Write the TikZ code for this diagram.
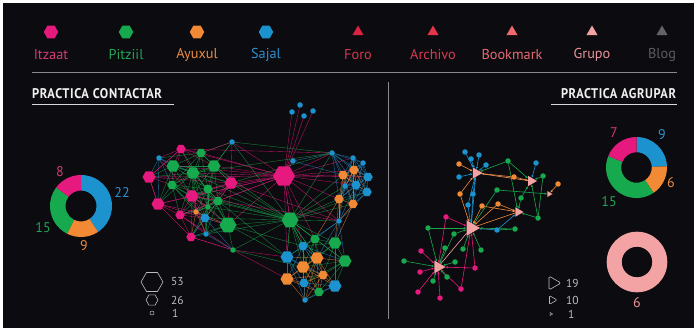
\documentclass[tikz,border=0pt]{standalone}
\usepackage{fontspec}
\setmainfont{PT Sans}
\usetikzlibrary{shapes.geometric,arrows.meta}
\pgfdeclarelayer{bg}
\pgfdeclarelayer{links}
\pgfsetlayers{bg,links,main}

\definecolor{bgc}{HTML}{0C0B0F}
\definecolor{cP}{HTML}{E6197E}
\definecolor{cG}{HTML}{17A94D}
\definecolor{cO}{HTML}{F28A35}
\definecolor{cB}{HTML}{1C93CF}
\definecolor{tP}{HTML}{D23A78}
\definecolor{tG}{HTML}{22A456}
\definecolor{tO}{HTML}{E98B42}
\definecolor{tB}{HTML}{2E8FD0}
\definecolor{foro}{HTML}{DA2242}
\definecolor{archivo}{HTML}{E6344A}
\definecolor{bookmark}{HTML}{EE6A6E}
\definecolor{grupo}{HTML}{F4A3A5}
\definecolor{blog}{HTML}{646466}
\definecolor{foroT}{HTML}{D33653}
\definecolor{archivoT}{HTML}{D83B52}
\definecolor{bookmarkT}{HTML}{E56A74}
\definecolor{grupoT}{HTML}{E8929A}
\definecolor{blogT}{HTML}{5C5C5E}
\definecolor{rule}{HTML}{8A8A8C}
\definecolor{keyc}{HTML}{BDBDBD}

% node lists: index / x / y / colour / size style
\def\leftnet{1/181/149/cP/nm,2/201/153/cG/nm,3/159/158/cB/ns,4/173/166/cG/nl,5/193/173/cG/nl,6/214/166/cG/nl,7/149/177/cP/nl,8/172/185/cG/nm,9/231/183/cP/nl,10/208/189/cG/nm,11/192/196/cP/nl,12/218/201/cG/nm,13/158/204/cP/nl,14/208/207/cG/ns,15/180/215/cP/nm,16/196/212/cO/ns,17/205/218/cB/nm,18/228/225/cG/nx,19/206/234/cB/ns,20/191/237/cP/nm,21/233/250/cG/ns,22/232/142/cB/ns,23/284/176/cP/nxx,24/290/220/cG/nx,25/293/161/cB/ns,26/292/112/cB/ns,27/300/105/cB/ns,28/304/116/cB/ns,29/313/111/cB/ns,30/332/153/cB/ns,31/353/158/cB/ns,32/363/163/cB/ns,33/354/170/cO/nm,34/343/175/cO/nm,35/368/177/cB/nm,36/345/186/cB/ns,37/356/185/cB/nm,38/367/192/cB/nm,39/339/199/cO/nm,40/353/204/cO/nm,41/339/221/cB/ns,42/315/239/cG/nm,43/335/243/cG/nl,44/303/246/cB/nm,45/317/258/cO/nl,46/287/257/cB/nl,47/345/261/cG/nl,48/303/267/cO/nl,49/323/275/cO/nm,50/287/279/cO/nl,51/304/283/cB/nm,52/335/286/cB/nl,53/319/292/cG/nm,54/305/300/cB/ns}

\def\rightnet{1/465/152/cB,2/471/159/cB,3/479/155/cB,4/486/165/cB,5/459/177/cB,6/473/194/cB,7/468/205/cB,8/497/230/cB,9/536/163/cB,10/459/164/cO,11/460/194/cO,12/514/177/cO,13/558/184/cO,14/482/206/cO,15/498/204/cO,16/508/161/cG,17/543/176/cG,18/497/190/cG,19/521/198/cG,20/538/218/cG,21/515/229/cG,22/428/228/cG,23/454/234/cG,24/445/248/cG,25/463/249/cG,26/481/250/cG,27/455/262/cG,28/404/261/cG,29/433/281/cG,30/447/277/cG,31/446/217/cP,32/421/251/cP,33/420/272/cP,34/475/268/cP,35/418/292/cP,36/440/298/cP,37/461/289/cP}

\begin{document}
\begin{tikzpicture}[x=1pt,y=-1pt,
  every node/.style={inner sep=0pt,outer sep=0pt},
  hexn/.style={regular polygon,regular polygon sides=6},
  ns/.style={circle,minimum size=5.5pt},
  nm/.style={hexn,minimum size=9.5pt},
  nl/.style={hexn,minimum size=13pt},
  nx/.style={hexn,minimum size=17pt},
  nxx/.style={hexn,minimum size=22pt},
  dotn/.style={circle,minimum size=5.5pt},
  link/.style={line width=0.35pt,draw opacity=0.8},
  rlink/.style={line width=0.6pt,-{Latex[length=2.6pt,width=2.2pt]}},
  tri/.style={regular polygon,regular polygon sides=3,shape border rotate=-90,fill=grupo},
  legtext/.style={font=\fontsize{14.3}{16}\selectfont,anchor=center},
  numtext/.style={font=\fontsize{14}{16}\selectfont},
  keytext/.style={font=\fontsize{11.5}{13}\selectfont,text=keyc,anchor=west},
  titletext/.style={font=\bfseries,text=white!94!black}
]
\useasboundingbox (0,0) rectangle (696,331);
\begin{pgfonlayer}{bg}
  \fill[white] (0,0) rectangle (696,331);
  \fill[bgc] (3,3) rectangle (694,328);
\end{pgfonlayer}

% ---------- colour key ----------
\node[hexn,fill=cP,minimum size=14.5pt] (kItz) at (51,32) {};
\node[hexn,fill=cG,minimum size=14.5pt] (kPit) at (126,32) {};
\node[hexn,fill=cO,minimum size=14.5pt] (kAyu) at (197,32) {};
\node[hexn,fill=cB,minimum size=14.5pt] (kSaj) at (266,32) {};
\node[legtext,text=tP] (lItz) at (51,55) {Itzaat};
\node[legtext,text=tG] (lPit) at (126,55) {Pitziil};
\node[legtext,text=tO] (lAyu) at (197,55) {Ayuxul};
\node[legtext,text=tB] (lSaj) at (266,55) {Sajal};

\node[regular polygon,regular polygon sides=3,fill=foro,minimum size=13pt] (kFor) at (358,32) {};
\node[regular polygon,regular polygon sides=3,fill=archivo,minimum size=13pt] (kArc) at (433,32) {};
\node[regular polygon,regular polygon sides=3,fill=bookmark,minimum size=13pt] (kBoo) at (512,32) {};
\node[regular polygon,regular polygon sides=3,fill=grupo,minimum size=13pt] (kGru) at (592,32) {};
\node[regular polygon,regular polygon sides=3,fill=blog,minimum size=13pt] (kBlo) at (662,32) {};
\node[legtext,text=foroT] (lFor) at (358,55) {Foro};
\node[legtext,text=archivoT] (lArc) at (433,55) {Archivo};
\node[legtext,text=bookmarkT] (lBoo) at (512,55) {Bookmark};
\node[legtext,text=grupoT] (lGru) at (592,55) {Grupo};
\node[legtext,text=blogT] (lBlo) at (662,55) {Blog};

% ---------- rules and titles ----------
\coordinate (hl) at (32,73);
\coordinate (hr) at (677,73);
\draw[rule,line width=1pt] (hl) -- (hr);
\coordinate (vt) at (388,82);
\coordinate (vb) at (388,319);
\draw[rule,line width=1pt] (vt) -- (vb);

\node[titletext,anchor=west] (tCon) at (32,93.5) {\resizebox{130pt}{10pt}{\addfontfeature{LetterSpace=5}PRACTICA CONTACTAR}};
\coordinate (u1a) at (32,104.3);
\coordinate (u1b) at (174,104.3);
\draw[white!85!black,line width=0.9pt] (u1a) -- (u1b);
\node[titletext,anchor=east] (tAgr) at (676,93.5) {\resizebox{115pt}{10pt}{\addfontfeature{LetterSpace=5}PRACTICA AGRUPAR}};
\coordinate (u2a) at (551,104.3);
\coordinate (u2b) at (677,104.3);
\draw[white!85!black,line width=0.9pt] (u2a) -- (u2b);

% ---------- left ring ----------
\begin{scope}[shift={(81,206)},y=1pt]
  \fill[cB] (90:31) arc[start angle=90,end angle=-56.7,radius=31] -- (-56.7:15.5) arc[start angle=-56.7,end angle=90,radius=15.5] -- cycle;
  \fill[cO] (-56.7:31) arc[start angle=-56.7,end angle=-116.7,radius=31] -- (-116.7:15.5) arc[start angle=-116.7,end angle=-56.7,radius=15.5] -- cycle;
  \fill[cG] (-116.7:31) arc[start angle=-116.7,end angle=-216.7,radius=31] -- (-216.7:15.5) arc[start angle=-216.7,end angle=-116.7,radius=15.5] -- cycle;
  \fill[cP] (-216.7:31) arc[start angle=-216.7,end angle=-270,radius=31] -- (-270:15.5) arc[start angle=-270,end angle=-216.7,radius=15.5] -- cycle;
\end{scope}
\node[numtext,text=tP] (v8) at (60,172) {8};
\node[numtext,text=tB] (v22) at (122,193) {22};
\node[numtext,text=tG] (v15) at (43,228) {15};
\node[numtext,text=tO] (v9) at (84,246) {9};

% ---------- right rings ----------
\begin{scope}[shift={(636.5,167.5)},y=1pt]
  \fill[cB] (90:30.5) arc[start angle=90,end angle=2.4,radius=30.5] -- (2.4:15.3) arc[start angle=2.4,end angle=90,radius=15.3] -- cycle;
  \fill[cO] (2.4:30.5) arc[start angle=2.4,end angle=-56,radius=30.5] -- (-56:15.3) arc[start angle=-56,end angle=2.4,radius=15.3] -- cycle;
  \fill[cG] (-56:30.5) arc[start angle=-56,end angle=-202,radius=30.5] -- (-202:15.3) arc[start angle=-202,end angle=-56,radius=15.3] -- cycle;
  \fill[cP] (-202:30.5) arc[start angle=-202,end angle=-270,radius=30.5] -- (-270:15.3) arc[start angle=-270,end angle=-202,radius=15.3] -- cycle;
\end{scope}
\node[numtext,text=tP] (w7) at (614,133) {7};
\node[numtext,text=tB] (w9) at (662,135) {9};
\node[numtext,text=tO] (w6) at (671,183) {6};
\node[numtext,text=tG] (w15) at (609,202) {15};

\begin{scope}[shift={(637,262)},y=1pt]
  \fill[grupo,even odd rule] (0,0) circle[radius=30.3] (0,0) circle[radius=15.3];
\end{scope}
\node[numtext,text=grupoT] (g6) at (637,303) {6};

% ---------- size keys ----------
\node[hexn,draw=keyc,line width=0.6pt,minimum size=22pt] (sz53) at (152,282) {};
\node[hexn,draw=keyc,line width=0.6pt,minimum size=12pt] (sz26) at (152,300) {};
\node[circle,draw=keyc,line width=0.5pt,minimum size=4pt] (sz1) at (152,313) {};
\node[keytext] (s53) at (171,282) {53};
\node[keytext] (s26) at (171,300) {26};
\node[keytext] (s1) at (172,313) {1};

\node[regular polygon,regular polygon sides=3,shape border rotate=-90,draw=keyc,line width=0.6pt,rounded corners=1.5pt,minimum size=16pt] (tz19) at (553,283) {};
\node[regular polygon,regular polygon sides=3,shape border rotate=-90,draw=keyc,line width=0.6pt,rounded corners=1pt,minimum size=10pt] (tz10) at (552,300) {};
\node[regular polygon,regular polygon sides=3,shape border rotate=-90,draw=keyc,line width=0.4pt,minimum size=3.5pt] (tz1) at (551,314) {};
\node[keytext] (r19) at (566,283) {19};
\node[keytext] (r10) at (566,300) {10};
\node[keytext] (r1) at (568,314) {1};

% ---------- contact network ----------
\foreach \i/\x/\y/\c/\s in \leftnet {
  \node[\s,fill=\c] (n\i) at (\x,\y) {};
}
\begin{pgfonlayer}{links}
  % neighbours within reach are linked
  \foreach \i/\xa/\ya/\ca/\sa in \leftnet {
    \foreach \j/\xb/\yb/\cb/\sb in \leftnet {
      \pgfmathtruncatemacro\ok{and(\i<\j,and(veclen(\xb-\xa,\yb-\ya)<47,and(or(\i<26,\i>29),or(\j<26,\j>29))))}
      \ifnum\ok=1 \draw[link,\ca] (n\i) -- (n\j); \fi
    }
  }
  % the two hubs
  \foreach \j in {1,2,4,5,6,7,9,10,11,12,13,15,18,22,25,26,27,28,29,30,31,33,34,35,37,39,41,42,44,46,24}
    \draw[link,cP] (n23) -- (n\j);
  \foreach \j in {5,6,8,9,10,11,12,14,17,18,19,21,22,30,34,36,38,39,40,41,42,43,44,45,46,47,48,53}
    \draw[link,cG] (n24) -- (n\j);
  % long range links
  \foreach \a/\b/\c in {22/2/cP,22/6/cG,22/30/cG,1/30/cP,21/46/cP,21/50/cP,18/44/cG,18/46/cG,9/30/cG,9/41/cP,20/21/cP,15/21/cP,13/20/cP,7/13/cP,7/1/cP,12/46/cG,21/48/cG,4/9/cG,5/30/cG,11/41/cP,25/34/cB,7/9/cP,13/18/cP,1/18/cG,3/11/cP}
    \draw[link,\c] (n\a) -- (n\b);
\end{pgfonlayer}

% ---------- group network ----------
\node[tri,minimum size=13pt] (T1) at (476,173) {};
\node[tri,minimum size=12pt] (T2) at (531,181) {};
\node[tri,minimum size=7pt] (T3) at (549,194) {};
\node[tri,minimum size=11pt] (T4) at (518,212) {};
\node[tri,minimum size=18pt] (T5) at (471,228) {};
\node[tri,minimum size=15pt] (T6) at (438,267) {};
\foreach \i/\x/\y/\c in \rightnet {
  \node[dotn,fill=\c] (m\i) at (\x,\y) {};
}
\begin{pgfonlayer}{links}
  \foreach \a/\t/\c in {1/T1/cB,2/T1/cB,3/T1/cB,4/T1/cB,5/T1/cB,6/T1/cB,7/T1/cB,10/T1/cO,11/T1/cO,16/T1/cG,12/T1/cO,
                     9/T2/cB,12/T2/cO,16/T2/cG,17/T2/cG,19/T2/cG,20/T2/cG,
                     13/T3/cO,18/T3/cG,
                     14/T4/cO,15/T4/cO,19/T4/cG,20/T4/cG,8/T4/cB,16/T4/cG,
                     8/T5/cB,21/T5/cG,18/T5/cG,14/T5/cO,15/T5/cO,11/T5/cO,31/T5/cP,22/T5/cG,23/T5/cG,25/T5/cG,26/T5/cG,34/T5/cP,37/T5/cP,7/T5/cB,6/T5/cB,
                     28/T6/cG,32/T6/cP,33/T6/cP,35/T6/cP,36/T6/cP,37/T6/cP,34/T6/cP,29/T6/cG,30/T6/cG,24/T6/cG,27/T6/cG,31/T6/cP,22/T6/cG,23/T6/cG}
    \draw[rlink,draw=\c] (m\a) -- (\t);
  \draw[line width=0.6pt,cO!60!grupo] (T1) -- (T2);
  \draw[line width=0.6pt,cB] (T1) -- (T5);
  \draw[line width=0.6pt,cO] (T5) -- (T4);
  \draw[line width=0.6pt,grupo] (T5) -- (T6);
  \draw[line width=0.6pt,cG] (m8) -- (m21);
  \draw[line width=0.6pt,cG] (m17) -- (m20);
\end{pgfonlayer}
\end{tikzpicture}
\end{document}
